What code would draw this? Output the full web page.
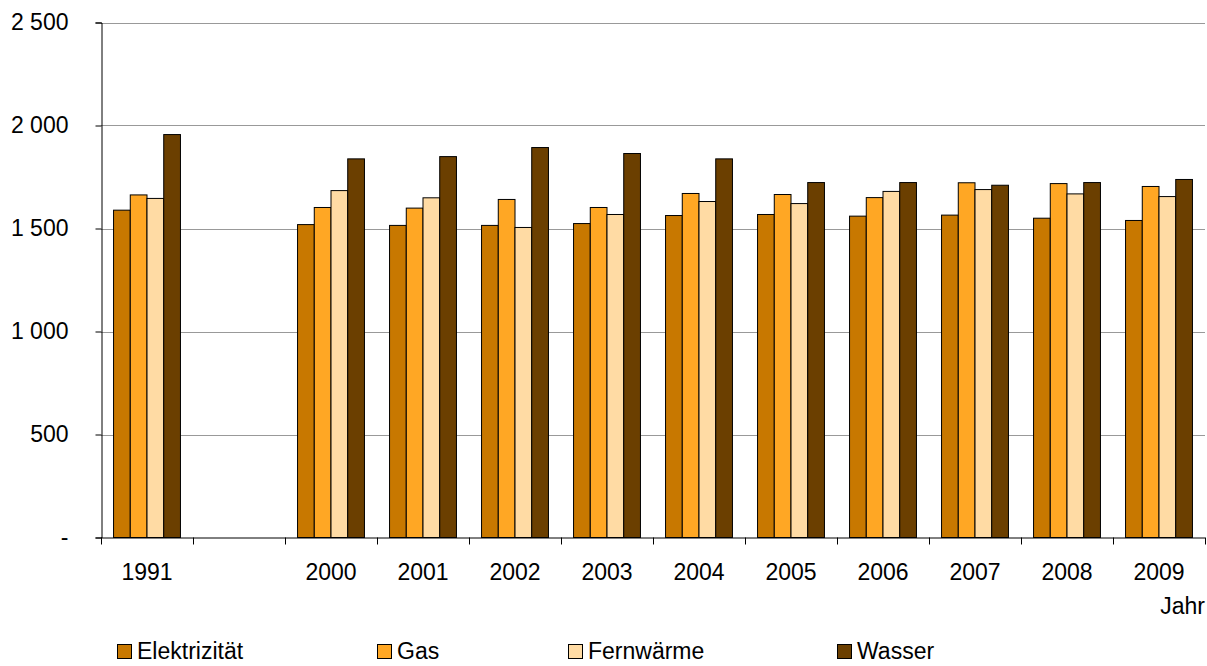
<!DOCTYPE html>
<html>
<head>
<meta charset="utf-8">
<script src="https://cdn.jsdelivr.net/npm/d3@7"></script>
<style>
  body { margin: 0; background: #fff; }
  text { font-family: "Liberation Sans", Arial, sans-serif; fill: #000; }
</style>
</head>
<body>
<div id="chart"></div>
<script>
// categories (the blank slot between 1991 and 2000 is kept empty)
var categories = ["1991", "gap", "2000", "2001", "2002", "2003", "2004", "2005", "2006", "2007", "2008", "2009"];
var categoryLabels = ["1991", "", "2000", "2001", "2002", "2003", "2004", "2005", "2006", "2007", "2008", "2009"];

var seriesNames = ["Elektrizität", "Gas", "Fernwärme", "Wasser"];
var seriesColors = ["#c87800", "#ffa724", "#ffdba4", "#6b3f00"];

var elektrizitaet = [1589, null, 1519, 1515, 1515, 1524, 1563, 1568, 1560, 1565, 1550, 1539];
var gas = [1663, null, 1602, 1599, 1641, 1602, 1670, 1665, 1650, 1722, 1718, 1704];
var fernwaerme = [1646, null, 1684, 1649, 1505, 1568, 1631, 1621, 1680, 1689, 1668, 1655];
var wasser = [1956, null, 1838, 1849, 1893, 1864, 1838, 1723, 1723, 1710, 1723, 1738];

var yTicks = [0, 500, 1000, 1500, 2000, 2500];
var yTickLabels = ["-", "500", "1 000", "1 500", "2 000", "2 500"];

var legendX = [117, 377, 568, 837];

(function() {
  "use strict";

  var width = 1207;
  var height = 666;
  var left = 101;
  var right = 1205;
  var top = 22.5;
  var bottom = 537.5;

  var seriesValues = [elektrizitaet, gas, fernwaerme, wasser];

  var svg = d3
    .select("#chart")
    .append("svg")
    .attr("width", width)
    .attr("height", height);

  var x = d3
    .scaleBand()
    .domain(categories)
    .range([left, right])
    .padding(0);

  var xInner = d3
    .scaleBand()
    .domain(seriesNames)
    .range([0, x.bandwidth()])
    .paddingInner(0)
    .paddingOuter(0.75);

  var y = d3
    .scaleLinear()
    .domain([0, 2500])
    .range([bottom, top]);

  // gridlines
  svg
    .append("g")
    .selectAll("line")
    .data(yTicks.slice(1))
    .enter()
    .append("line")
    .attr("x1", left)
    .attr("x2", right)
    .attr("y1", function(d) { return Math.round(y(d)) + 0.5; })
    .attr("y2", function(d) { return Math.round(y(d)) + 0.5; })
    .style("stroke", "#999")
    .style("stroke-width", 1);

  // bars
  seriesNames.forEach(function(name, s) {
    var rows = [];
    categories.forEach(function(c, i) {
      if (seriesValues[s][i] !== null) {
        rows.push({ cat: c, value: seriesValues[s][i] });
      }
    });
    svg
      .append("g")
      .selectAll("rect")
      .data(rows)
      .enter()
      .append("rect")
      .attr("x", function(d) { return x(d.cat) + xInner(name); })
      .attr("y", function(d) { return y(d.value); })
      .attr("width", xInner.bandwidth())
      .attr("height", function(d) { return y(0) - y(d.value); })
      .style("fill", seriesColors[s])
      .style("stroke", "#000")
      .style("stroke-width", 1);
  });

  // y axis
  var yAxis = d3
    .axisLeft(y)
    .tickValues(yTicks)
    .tickSize(6)
    .tickPadding(27)
    .tickFormat(function(d, i) { return yTickLabels[i]; });

  var gy = svg
    .append("g")
    .attr("transform", "translate(" + (left + 0.5) + ",0)")
    .call(yAxis);
  gy.select(".domain").attr("stroke", "#000");
  gy.selectAll(".tick line").attr("stroke", "#000");
  gy.selectAll(".tick text")
    .style("font-size", "23px")
    .attr("font-family", null);

  // x axis: ticks on slot boundaries, labels in slot centres
  var boundaries = categories.map(function(c) { return x(c); }).concat([right]);

  svg
    .append("line")
    .attr("x1", left)
    .attr("x2", right)
    .attr("y1", bottom + 0.5)
    .attr("y2", bottom + 0.5)
    .style("stroke", "#000");

  svg
    .append("g")
    .selectAll("line")
    .data(boundaries)
    .enter()
    .append("line")
    .attr("x1", function(d) { return Math.round(d) + 0.5; })
    .attr("x2", function(d) { return Math.round(d) + 0.5; })
    .attr("y1", bottom)
    .attr("y2", bottom + 7)
    .style("stroke", "#000");

  svg
    .append("g")
    .selectAll("text")
    .data(categories)
    .enter()
    .append("text")
    .attr("x", function(d) { return x(d) + x.bandwidth() / 2; })
    .attr("y", 579.5)
    .attr("text-anchor", "middle")
    .style("font-size", "23px")
    .text(function(d, i) { return categoryLabels[i]; });

  svg
    .append("text")
    .attr("x", right)
    .attr("y", 614)
    .attr("text-anchor", "end")
    .style("font-size", "23px")
    .text("Jahr");

  // legend
  var legend = svg
    .append("g")
    .selectAll("g")
    .data(seriesNames)
    .enter()
    .append("g")
    .attr("transform", function(d, i) { return "translate(" + legendX[i] + ",0)"; });

  legend
    .append("rect")
    .attr("x", 0.5)
    .attr("y", 644.5)
    .attr("width", 14)
    .attr("height", 14)
    .style("fill", function(d, i) { return seriesColors[i]; })
    .style("stroke", "#000");

  legend
    .append("text")
    .attr("x", 20)
    .attr("y", 659)
    .style("font-size", "23px")
    .text(function(d) { return d; });
})();
</script>
</body>
</html>
